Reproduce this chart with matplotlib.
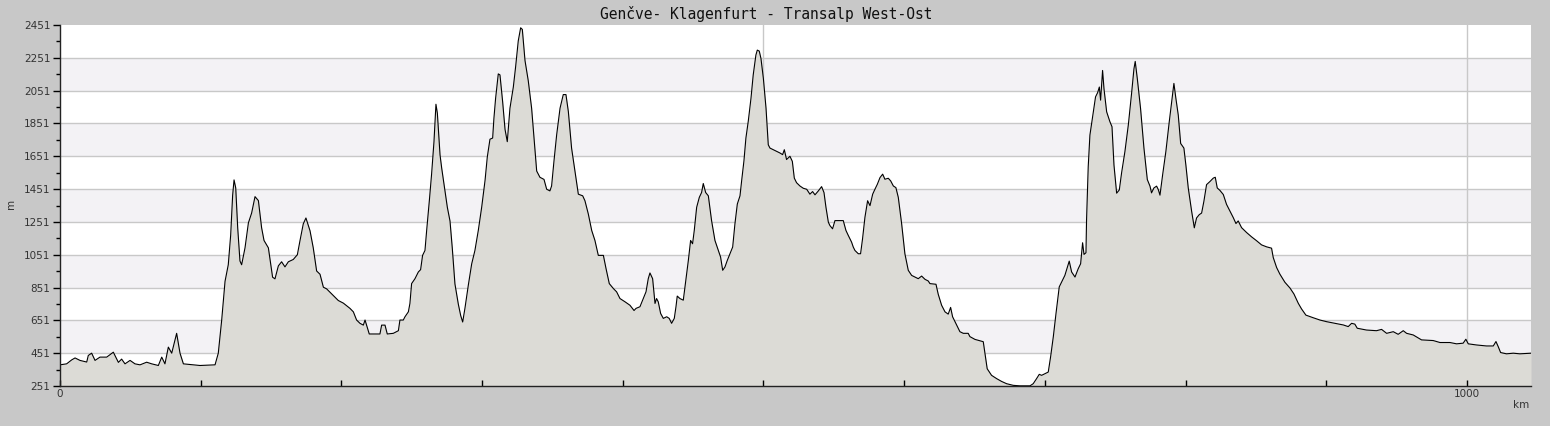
import numpy as np
import matplotlib
matplotlib.use("Agg")
import matplotlib.pyplot as plt
from matplotlib.ticker import MultipleLocator, FixedLocator

## elevation profile Geneve -> Klagenfurt
km = [0, 4.7, 8.3, 10.7, 14.2, 19, 20.1, 22.5, 24.9, 28.4, 33.2, 37.9, 41.5, 43.8, 46.2,
      49.8, 53.3, 56.9, 61.6, 65.2, 69.9, 72.3, 74.6, 77, 79.4, 82.9, 85.3, 87.7, 94.8,
      99.5, 110.2, 112.5, 114.9, 117.3, 119.6, 121.3, 122.7, 123.7, 124.9, 126.3, 127.9,
      129.1, 131.5, 133.9, 136.2, 138.6, 141, 143.3, 145, 148.1, 151.1, 152.8, 155.2,
      157.5, 159.9, 162.3, 165.8, 168.7, 170.6, 172.9, 174.8, 177.7, 180, 182.4, 184.8,
      187.2, 189.5, 193.1, 197.8, 201.4, 204.9,
      206.1, 208.5, 210.8, 213.2, 215.6, 216.8, 217.9, 219.8, 222.7, 227.4, 228.6, 231,
      232.6, 236.9, 240.5, 241.6, 244, 245.2, 247.6, 248.7, 249.9, 252.3, 254.7, 256.3,
      257.7, 259.4, 260.6, 262.5, 264.1, 265.8, 267.2, 268.2, 270.1, 271.3, 273.6, 275.3,
      277.2, 278.8, 280.7, 283.1, 284.8, 286.2, 287.8, 290.2, 292.6, 294.9, 297.3, 299.7,
      302.1, 303.7, 305.6, 307.5, 308.4, 309.6, 311.5, 312.7, 314.6, 316.3, 317.9, 319.8,
      322.2, 323.8, 325.7, 327.4, 328.6, 330.5, 332.8, 335.2, 336.9, 338.8, 341.1, 344,
      345.9, 348.2, 349.4, 351.1, 353, 355.4, 357.7, 359.6, 361.3, 363.6, 366, 368.4,
      371.5, 373.1, 375.5, 377.9, 380.2, 382.6, 386.2, 388.1, 390.4, 393.3, 395.6, 398,
      401.6, 405.1, 408, 409.4,
      412.2, 414.6, 416.5, 418.1, 419.3, 421.2, 422.9, 424, 425.2, 426.9, 428.8, 431.2,
      433.0, 434.7, 436.6, 437.8, 438.7, 440.6, 443, 444.2, 446.6, 448.2, 449.6, 450.8,
      452.5, 454.4, 456, 457.2, 458.9, 460.8, 463.1, 465.5, 467.9, 469.5, 471, 472.6,
      474.3, 476.2, 478.1, 479.7, 481.4, 483.3, 484.5, 486.1, 487.5, 489.2, 491.1, 492.7,
      494.6, 495.6, 497, 498.2, 499.9, 501.8, 503.4, 504.6, 507, 509.3, 511.7, 513.6,
      514.8, 516.4, 518.8, 520.5, 521.9, 523.5, 525.9, 528.3, 530.7, 533, 534.9, 536.6,
      539, 541.3, 543, 544.4, 546.1, 547.2, 549.1, 550.8, 553.2, 556.7, 558.6, 560.3,
      562.6, 563.8, 565, 567.4, 569, 570.4, 572.1, 574, 575.7, 577.6, 579.2, 580.9,
      582.8, 584.7, 586.3, 588.7, 590.4, 592.3, 594.1, 595.8, 598.2, 600.5, 602.9, 605.3,
      607.6, 610, 612.4, 614.8, 617.1,
      618.3, 622.6, 624.2, 626.6, 629, 631.3, 633, 634.4, 637.3, 639.6, 642, 645.5,
      646.7, 650.3, 656.2, 657.4, 659.0, 662.1, 665.7, 669.2, 672.8, 677.5, 682.3, 689.4,
      691.7, 694.1, 696, 697.7, 700, 702.4, 704.1, 706, 707.9, 710.2, 711.9, 714.2,
      717.3, 719, 721.4, 723.7, 725.4, 726.8, 727.8, 729.2, 729.6, 730.8, 732, 733.2,
      734.4, 736, 737.5, 738.7, 739.6, 741, 742, 743.9, 746.2, 747.7, 749.1, 751, 752.9,
      754.5, 756.9, 759.3, 761.6, 763.3, 764.2, 765.7, 768, 770.4, 772.8, 774.7, 775.8,
      777.5, 779.4, 780.6, 781.8, 783.7, 786, 788.4, 790.8, 791.7, 793.1, 794.8, 796.5,
      798.8, 800.2, 801.9, 804.3, 806.2, 807.8, 809.7, 811.4, 813.0, 814.9, 817.3, 819.7,
      821.1, 822.5,
      824.4, 826.8, 829.1, 831.5, 833.9, 835.8, 837.4, 839.8, 843.4, 846.9, 850.5, 854,
      857.6, 861.1, 862.3, 864.7, 867, 870.6, 874.2, 877, 880.1, 882.4, 885.5, 890.7,
      895.5, 900.2, 906.1, 912.1, 915.6, 918, 920.3, 922, 928.6, 935.7, 939.3, 942.9,
      947.6, 951.1, 954.7, 957.1, 961.8, 967.7, 976, 980.8, 987.9, 992.6, 997.3, 999.2,
      1000.9, 1006.8, 1013.9, 1018.7, 1020.6, 1022.2, 1023.9, 1028.1, 1032.9, 1037.6,
      1045.5]

elev = [380, 386, 410, 422, 407, 397, 437, 451, 407, 427, 427, 457, 395, 415, 386,
        407, 386, 380, 396, 386, 376, 427, 386, 488, 451, 572, 451, 386, 380,
        376, 380, 451, 651, 889, 990, 1170, 1413, 1507, 1458, 1215, 1013,
        990, 1093, 1245, 1305, 1405, 1381, 1215, 1138, 1093, 914, 904, 983,
        1008, 977, 1008, 1022, 1051, 1138, 1239, 1275, 1197, 1093, 952, 932,
        853, 843, 812, 772, 756, 732,
        724, 703, 653, 633, 622, 653, 622, 568, 568, 568, 622, 622,
        568, 572, 588, 653, 653, 673, 703, 754, 875, 905, 946, 960,
        1047, 1077, 1199, 1380, 1542, 1740, 1968, 1914, 1660, 1578, 1440, 1340,
        1256, 1093, 873, 750, 680, 641, 724, 865, 995, 1077, 1199, 1340,
        1504, 1647, 1755, 1762, 1882, 2004, 2153, 2147, 1984, 1815, 1740, 1944,
        2073, 2194, 2354, 2434, 2424, 2234, 2112, 1944, 1762, 1561, 1523, 1510,
        1450, 1440, 1470, 1623, 1782, 1944, 2027, 2027, 1924, 1701, 1561, 1420,
        1410, 1380, 1299, 1199, 1138, 1047, 1047, 966, 875, 845, 825, 784,
        764, 743, 711, 724,
        734, 784, 825, 905, 940, 905, 754, 784, 764, 693, 663, 673,
        663, 633, 663, 734, 799, 784, 774, 855, 1017, 1138, 1118, 1199,
        1340, 1401, 1430, 1485, 1430, 1410, 1259, 1138, 1077, 1037, 956, 976,
        1017, 1057, 1098, 1239, 1360, 1410, 1504, 1623, 1762, 1866, 2004, 2147,
        2268, 2298, 2292, 2247, 2127, 1944, 1721, 1701, 1691, 1681, 1671, 1661,
        1691, 1631, 1651, 1620, 1518, 1490, 1470, 1456, 1450, 1420, 1436, 1416,
        1440, 1466, 1430, 1340, 1249, 1229, 1209, 1259, 1259, 1259, 1199, 1168,
        1128, 1098, 1077, 1057, 1057, 1148, 1279, 1380, 1350, 1420, 1450, 1480,
        1521, 1542, 1511, 1517, 1501, 1470, 1460, 1401, 1239, 1057, 956, 925,
        915, 905, 921, 901, 891,
        875, 871, 810, 743, 703, 689, 730, 673, 622, 582, 572, 572,
        552, 535, 521, 451, 356, 316, 296, 279, 265, 255, 252, 252,
        265, 296, 322, 316, 326, 336, 431, 552, 693, 855, 885, 925,
        1012, 946, 915, 966, 996, 1124, 1053, 1063, 1259, 1588, 1780, 1851,
        1922, 2013, 2039, 2073, 1993, 2174, 2063, 1922, 1862, 1831, 1598, 1426, 1446,
        1549, 1681, 1842, 2033, 2184, 2229, 2123, 1942, 1701, 1509, 1469, 1428,
        1458, 1469, 1448, 1414, 1539, 1681, 1862, 2035, 2095, 2004, 1902, 1729,
        1701, 1598, 1458, 1316, 1215, 1275, 1295, 1305, 1376, 1478, 1497, 1518,
        1523, 1458,
        1443, 1418, 1358, 1317, 1277, 1241, 1257, 1216, 1186, 1160, 1136, 1111,
        1099, 1091, 1034, 973, 933, 883, 848, 812, 755, 721, 683, 667,
        653, 643, 633, 623, 613, 633, 628, 603, 592, 588, 596, 572,
        582, 566, 588, 572, 562, 532, 528, 516, 516, 508, 512, 536,
        508, 501, 495, 495, 522, 491, 455, 447, 451, 447,
        451]

title = "Genčve- Klagenfurt - Transalp West-Ost"
y_min, y_max, y_step = 251, 2451, 200
x_max = 1045.5

fig = plt.figure(figsize=(15.5, 4.26), dpi=100, facecolor="#c8c8c8")
ax = fig.add_axes([60 / 1550, 1 - 386 / 426, 1471 / 1550, 361 / 426])
ax.set_facecolor("white")

# alternating horizontal bands
for k, lo in enumerate(range(y_min, y_max, y_step)):
    if k % 2 == 1:
        ax.axhspan(lo, lo + y_step, color="#f3f2f5", zorder=0, lw=0)
for lo in range(y_min + y_step, y_max, y_step):
    ax.axhline(lo, color="#c8c8c8", lw=1, zorder=0.5)
for xv in (500, 1000):
    ax.axvline(xv, color="#c8c8c8", lw=1, zorder=0.5)

ax.fill_between(km, y_min, elev, color="#dcdbd6", lw=0, zorder=1)
ax.plot(km, elev, color="black", lw=0.8, zorder=2)

ax.set_xlim(0, x_max)
ax.set_ylim(y_min, y_max)

for s in ("top", "right"):
    ax.spines[s].set_visible(False)
for s in ("left", "bottom"):
    ax.spines[s].set_color("#222222")
    ax.spines[s].set_linewidth(1.0)

ax.yaxis.set_major_locator(FixedLocator(list(range(y_min, y_max + 1, y_step))))
ax.yaxis.set_minor_locator(FixedLocator(list(range(y_min + 100, y_max, y_step))))
ax.tick_params(axis="y", which="major", direction="out", length=5, width=1,
               labelsize=7.5, labelcolor="#333333", pad=2)
ax.tick_params(axis="y", which="minor", direction="out", length=3, width=1)

ax.xaxis.set_major_locator(FixedLocator([0, 1000]))
ax.xaxis.set_minor_locator(MultipleLocator(100))
ax.tick_params(axis="x", which="both", direction="in", length=4, width=1,
               labelsize=7.5, labelcolor="#333333", pad=2)

fig.text(766 / 1550, 1 - 14 / 426, title, ha="center", va="center",
         family="DejaVu Sans Mono", fontsize=10.5, color="#111111")
fig.text(11 / 1550, 1 - 204 / 426, "m", rotation=90, ha="center", va="center",
         fontsize=7.5, color="#333333")
fig.text(1521 / 1550, 1 - 405 / 426, "km", ha="center", va="center",
         fontsize=7.5, color="#333333")

fig.savefig("out.png", dpi=100, facecolor=fig.get_facecolor())
